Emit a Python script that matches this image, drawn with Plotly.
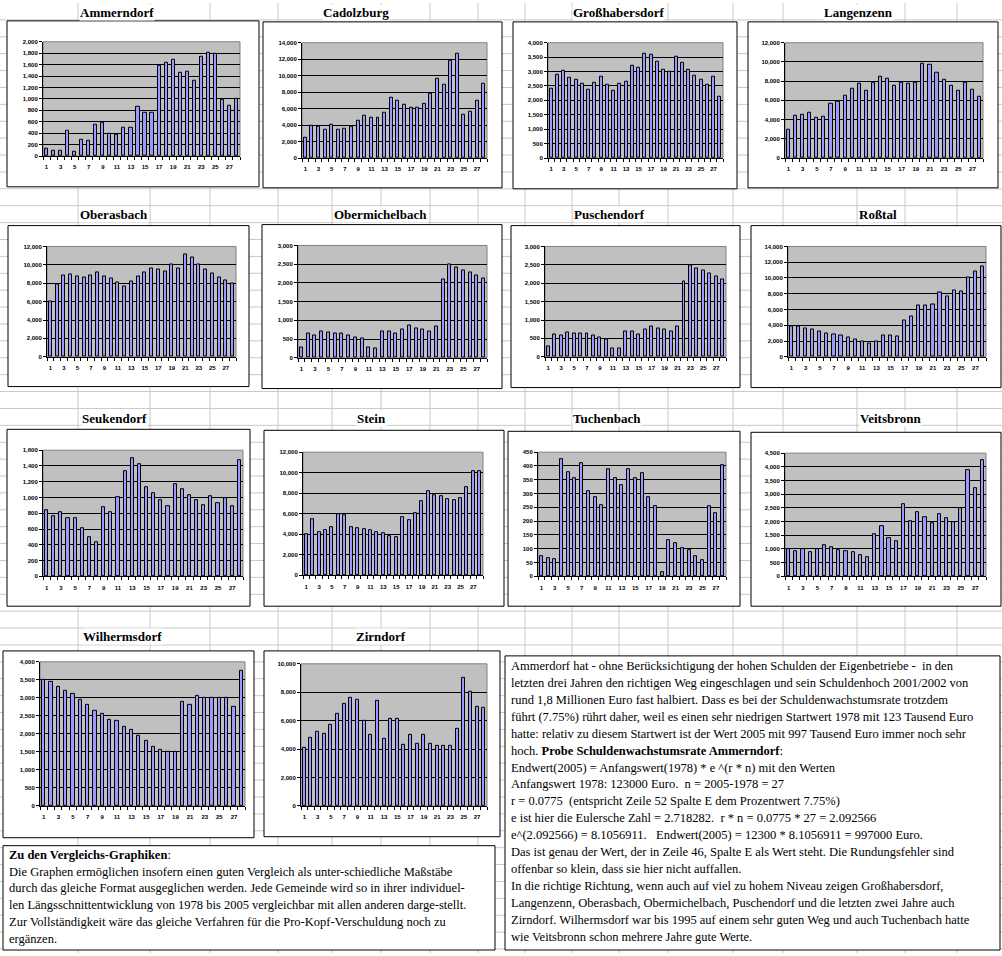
import plotly.graph_objects as go

W, H = 1002, 956

years = list(range(1, 29))
x_tick_vals = list(range(1, 28, 2))
x_tick_labels = [str(v) for v in x_tick_vals]

ammerndorf = [123, 100, 87, 435, 70, 278, 261, 539, 580, 394, 365, 499, 487, 870,
              765, 765, 1583, 1635, 1687, 1461, 1478, 1322, 1739, 1809, 1786, 986, 887, 997]
cadolzburg = [2500, 3914, 3793, 3470, 4035, 3470, 3591, 3833, 4519, 5164, 4882, 4882, 5527, 7303,
              6939, 6496, 6092, 6092, 6617, 7787, 9602, 8916, 11781, 12669, 5245, 5608, 6980, 8997]
grosshabersdorf = [2414, 2885, 3034, 2793, 2724, 2575, 2368, 2621, 2828, 2529, 2345, 2586, 2655, 3195,
                   3138, 3621, 3575, 3333, 3057, 2977, 3517, 3299, 3057, 2862, 2724, 2540, 2828, 2138]
langenzenn = [2939, 4392, 4496, 4703, 4184, 4288, 5637, 5844, 6467, 7193, 7712, 6986, 7816, 8438,
              8231, 7504, 7816, 7712, 7816, 9787, 9683, 8853, 8127, 7504, 6986, 7816, 7089, 6363]
oberasbach = [6000, 7843, 8819, 8928, 8711, 8602, 8819, 9145, 8711, 8494, 8060, 7627, 8169, 8711,
              9145, 9578, 9470, 9253, 10012, 9578, 11096, 10771, 10012, 9470, 9036, 8602, 8277, 7952]
obermichelbach = [265, 637, 584, 690, 664, 637, 637, 584, 531, 504, 265, 239, 690, 690,
                  637, 743, 850, 796, 743, 690, 823, 2080, 2496, 2416, 2336, 2292, 2212, 2124]
puschendorf = [270, 613, 586, 667, 640, 640, 640, 586, 532, 477, 234, 234, 694, 694,
               613, 748, 829, 775, 748, 694, 829, 2045, 2477, 2396, 2342, 2261, 2180, 2099]
rosstal = [3910, 3910, 3616, 3489, 3237, 2985, 2859, 2733, 2480, 2228, 1976, 1724, 1976, 2733,
           2733, 2607, 4625, 5129, 6517, 6517, 6643, 8156, 7652, 8408, 8282, 10048, 10805, 11435]
seukendorf = [838, 762, 813, 737, 737, 611, 497, 434, 876, 813, 1002, 1331, 1495, 1419,
              1128, 1053, 964, 888, 1166, 1103, 1027, 964, 901, 1015, 926, 989, 888, 1469]
stein = [4000, 5452, 4194, 4387, 4677, 5935, 5839, 4677, 4581, 4484, 4387, 4194, 4097, 3806,
         3710, 5645, 5355, 6032, 7194, 8161, 7774, 7677, 7387, 7290, 7484, 8548, 10194, 10194]
tuchenbach = [73, 66, 62, 425, 378, 356, 410, 310, 288, 259, 389, 356, 331, 389,
              356, 374, 288, 256, 15, 133, 119, 103, 94, 73, 59, 256, 230, 403]
veitsbronn = [1000, 907, 992, 871, 980, 1125, 1052, 944, 907, 871, 762, 690, 1524, 1851,
              1379, 1270, 2649, 2032, 2359, 2177, 1960, 2286, 2141, 1996, 2504, 3883, 3230, 4246]
wilhermsdorf = [3500, 3450, 3300, 3200, 3100, 2950, 2800, 2650, 2550, 2400, 2350, 2200, 2100, 1950,
                1800, 1650, 1550, 1500, 1500, 2900, 2800, 3050, 3000, 3000, 3000, 3000, 2750, 3750]
zirndorf = [4100, 4800, 5200, 5100, 5700, 6500, 7200, 7600, 7500, 6000, 5000, 7400, 4700, 6100,
            6100, 4300, 5000, 4400, 5000, 4400, 4200, 4200, 4200, 5400, 9000, 8000, 7000, 6900]

titles = ["Ammerndorf", "Cadolzburg", "Großhabersdorf", "Langenzenn",
          "Oberasbach", "Obermichelbach", "Puschendorf", "Roßtal",
          "Seukendorf", "Stein", "Tuchenbach", "Veitsbronn",
          "Wilhermsdorf", "Zirndorf"]
series = [ammerndorf, cadolzburg, grosshabersdorf, langenzenn,
          oberasbach, obermichelbach, puschendorf, rosstal,
          seukendorf, stein, tuchenbach, veitsbronn,
          wilhermsdorf, zirndorf]
y_max = [2000, 14000, 4000, 12000, 12000, 3000, 3000, 14000, 1600, 12000, 450, 4500, 4000, 10000]
y_step = [200, 2000, 500, 2000, 2000, 500, 500, 2000, 200, 2000, 50, 500, 500, 2000]

# layout geometry (pixels): chart box, plot area, title centre
boxes = [(7, 18, 259, 185), (263, 19, 502, 186), (513, 19, 737, 187), (748, 19, 998, 186),
         (8, 224, 249, 386), (262, 223, 502, 388), (511, 224, 740, 387), (751, 224, 1001, 387),
         (7, 429, 250, 607), (264, 430, 504, 607), (508, 431, 740, 607), (751, 432, 1001, 607),
         (3, 652, 254, 840), (264, 652, 500, 839)]
plots = [(43, 39, 240, 154), (302, 40, 487, 156), (548, 40, 723, 156), (785, 40, 983, 156),
         (47, 245, 236, 356), (298, 244, 487, 357), (545, 245, 726, 356), (788, 245, 986, 356),
         (43, 450, 243, 577), (303, 452, 483, 576), (538, 452, 726, 577), (785, 453, 986, 577),
         (40, 663, 245, 808), (301, 665, 487, 808)]
title_pos = [(117, 10), (356, 10), (618, 10), (858, 10),
             (114, 213), (380, 213), (609, 213), (878, 213),
             (114, 418), (371, 418), (607, 418), (890, 418),
             (122, 638), (381, 638)]

right_text = [
    "Ammerdorf hat - ohne Berücksichtigung der hohen Schulden der Eigenbetriebe -  in den",
    "letzten drei Jahren den richtigen Weg eingeschlagen und sein Schuldenhoch 2001/2002 von",
    "rund 1,8 Millionen Euro fast halbiert. Dass es bei der Schuldenwachstumsrate trotzdem",
    "führt (7.75%) rührt daher, weil es einen sehr niedrigen Startwert 1978 mit 123 Tausend Euro",
    "hatte: relativ zu diesem Startwert ist der Wert 2005 mit 997 Tausend Euro immer noch sehr",
    "hoch. <b>Probe Schuldenwachstumsrate Ammerndorf</b>:",
    "Endwert(2005) = Anfangswert(1978) * e ^(r * n) mit den Werten",
    "Anfangswert 1978: 123000 Euro.  n = 2005-1978 = 27",
    "r = 0.0775  (entspricht Zeile 52 Spalte E dem Prozentwert 7.75%)",
    "e ist hier die Eulersche Zahl = 2.718282.  r * n = 0.0775 * 27 = 2.092566",
    "e^(2.092566) = 8.1056911.   Endwert(2005) = 12300 * 8.1056911 = 997000 Euro.",
    "Das ist genau der Wert, der in Zeile 46, Spalte E als Wert steht. Die Rundungsfehler sind",
    "offenbar so klein, dass sie hier nicht auffallen.",
    "In die richtige Richtung, wenn auch auf viel zu hohem Niveau zeigen Großhabersdorf,",
    "Langenzenn, Oberasbach, Obermichelbach, Puschendorf und die letzten zwei Jahre auch",
    "Zirndorf. Wilhermsdorf war bis 1995 auf einem sehr guten Weg und auch Tuchenbach hatte",
    "wie Veitsbronn schon mehrere Jahre gute Werte.",
]
left_text = [
    "<b>Zu den Vergleichs-Graphiken</b>:",
    "Die Graphen ermöglichen insofern einen guten Vergleich als unter-schiedliche Maßstäbe",
    "durch das gleiche Format ausgeglichen werden. Jede Gemeinde wird so in ihrer individuel-",
    "len Längsschnittentwicklung von 1978 bis 2005 vergleichbar mit allen anderen darge-stellt.",
    "Zur Vollständigkeit wäre das gleiche Verfahren für die Pro-Kopf-Verschuldung noch zu",
    "ergänzen.",
]

col_lines = [78, 150, 210, 278, 332, 381, 430, 478, 525, 572, 619, 668, 733, 783, 857, 905, 957]


def px(x):
    return x / W


def py(y):
    return 1 - y / H


shapes = []
# spreadsheet grid
for cx in col_lines:
    shapes.append(dict(type="line", xref="paper", yref="paper", x0=px(cx), x1=px(cx), y0=0, y1=1,
                       line=dict(color="#C8C8C8", width=1), layer="below"))
for k in range(1, 57):
    shapes.append(dict(type="line", xref="paper", yref="paper", x0=0, x1=1, y0=py(17 * k), y1=py(17 * k),
                       line=dict(color="#C8C8C8", width=1), layer="below"))

# text boxes
for (x0, y0, x1, y1) in [(505, 657, 1000, 953), (3, 848, 495, 953)]:
    shapes.append(dict(type="rect", xref="paper", yref="paper", x0=px(x0), x1=px(x1), y0=py(y1), y1=py(y0),
                       fillcolor="white", line=dict(color="black", width=1), layer="below"))

fig = go.Figure()
annotations = []
layout_axes = {}

for i in range(len(titles)):
    n = i + 1
    sfx = "" if n == 1 else str(n)
    bx = boxes[i]
    pr = plots[i]
    shapes.append(dict(type="rect", xref="paper", yref="paper", x0=px(bx[0]), x1=px(bx[2]),
                       y0=py(bx[3]), y1=py(bx[1]), fillcolor="white",
                       line=dict(color="black", width=1), layer="below"))
    shapes.append(dict(type="rect", xref="paper", yref="paper", x0=px(pr[0]), x1=px(pr[2]),
                       y0=py(pr[3]), y1=py(pr[1]), fillcolor="#C0C0C0",
                       line=dict(color="#808080", width=1), layer="below"))
    fig.add_trace(go.Bar(x=years, y=series[i], width=0.45, name=titles[i],
                         marker=dict(color="#9999FF", line=dict(color="#000000", width=1)),
                         xaxis="x" + sfx, yaxis="y" + sfx, hoverinfo="x+y"))
    tf = dict(family="Arial, Liberation Sans, sans-serif", size=6, color="black", weight="bold")
    layout_axes["xaxis" + sfx] = dict(
        domain=[px(pr[0]), px(pr[2])], anchor="y" + sfx, range=[0.5, 28.5],
        tickmode="array", tickvals=x_tick_vals, ticktext=x_tick_labels, ticks="",
        showgrid=False, zeroline=False, showline=True, linecolor="black", linewidth=1,
        tickfont=tf, ticklabelstandoff=5, fixedrange=True,
        minor=dict(tickmode="linear", tick0=0.5, dtick=1, ticks="outside", ticklen=3,
                   tickcolor="black", tickwidth=1, showgrid=False))
    layout_axes["yaxis" + sfx] = dict(
        domain=[py(pr[3]), py(pr[1])], anchor="x" + sfx, range=[0, y_max[i]],
        tickmode="linear", tick0=0, dtick=y_step[i], tickformat=",d",
        showgrid=True, gridcolor="black", gridwidth=1, zeroline=False,
        showline=True, linecolor="black", linewidth=1, ticks="outside", ticklen=3,
        tickcolor="black", tickfont=tf, fixedrange=True)
    tx, ty = title_pos[i]
    annotations.append(dict(text="<b>" + titles[i] + "</b>", xref="paper", yref="paper",
                            x=px(tx), y=py(ty), xanchor="center", yanchor="middle", showarrow=False,
                            bgcolor="white", borderpad=0,
                            font=dict(family="Liberation Serif, Times New Roman, serif", size=13,
                                      color="black")))

text_font = dict(family="Liberation Serif, Times New Roman, serif", size=12.5, color="black")
for j, line in enumerate(right_text):
    annotations.append(dict(text=line, xref="paper", yref="paper", x=px(509), y=py(667 + 17.06 * j),
                            xanchor="left", yanchor="middle", showarrow=False, font=text_font))
for j, line in enumerate(left_text):
    annotations.append(dict(text=line, xref="paper", yref="paper", x=px(7), y=py(857 + 17 * j),
                            xanchor="left", yanchor="middle", showarrow=False, font=text_font))

fig.update_layout(width=W, height=H, autosize=False, margin=dict(l=0, r=0, t=0, b=0),
                  paper_bgcolor="white", plot_bgcolor="rgba(0,0,0,0)", showlegend=False,
                  bargap=0, shapes=shapes, annotations=annotations, **layout_axes)

fig.write_html("out.html", config={"displayModeBar": False},
               post_script="document.body.style.margin='0';")
